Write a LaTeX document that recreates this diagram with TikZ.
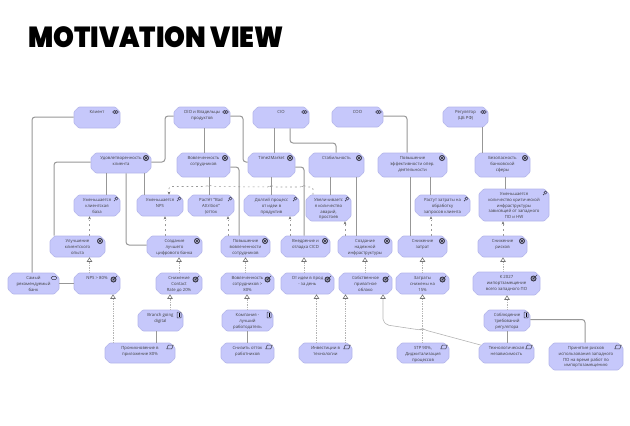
\documentclass[tikz,border=0pt]{standalone}
\usepackage{fontspec}
\setmainfont{Open Sans}
\newfontfamily\titlef{Poppins Black}
\usetikzlibrary{shapes.misc,arrows.meta}
\definecolor{boxfill}{HTML}{C6C8FB}
\definecolor{boxline}{HTML}{B4B6EA}
\definecolor{linegray}{HTML}{979797}
\definecolor{dotgray}{HTML}{B4B4B4}
\definecolor{icondark}{HTML}{3A3A4A}
\tikzset{
  ab/.style={chamfered rectangle,chamfered rectangle xsep=2.4pt,chamfered rectangle ysep=2.4pt,draw=boxline,fill=boxfill,line width=.6pt,inner sep=0pt,rounded corners=.8pt,text=black!75},
  sol/.style={draw=linegray,line width=1pt,rounded corners=3pt},
  real/.style={draw=dotgray,line width=1pt,dash pattern=on 1pt off .7pt,rounded corners=3pt,-{Triangle[open,fill=white,length=4.5pt,width=5.5pt,line width=.6pt,color=black!55]}},
  infl/.style={draw=black!40,line width=.55pt,dash pattern=on 1.8pt off 3pt,-{Stealth[length=3pt,width=2.6pt,color=black!60]}},
  icl/.style={draw=icondark,line width=.5pt},
}
\newcommand\icS[2]{\begin{scope}[shift={(#1-4.5,#2+5)}]\draw[icl] (-1,0) ellipse[x radius=1.9pt,y radius=1.6pt];\draw[icl] (1,0) ellipse[x radius=1.9pt,y radius=1.6pt];\end{scope}}
\newcommand\icG[2]{\begin{scope}[shift={(#1-5,#2+5)}]\fill[icondark] (0,0) circle[radius=3pt];\draw[boxfill!70!white,line width=.35pt] (0,0) circle[radius=1.8pt];\end{scope}}
\newcommand\icA[2]{\begin{scope}[shift={(#1-4,#2+4)}]\draw[icl] (.5,-.5) circle[radius=1.6pt];\draw[icl,line width=.7pt] (-.7,.7) -- (-2,2);\end{scope}}
\newcommand\icO[2]{\begin{scope}[shift={(#1-6.5,#2+6.5)}]\fill[icondark] (0,0) circle[radius=3pt];\draw[boxfill!70!white,line width=.35pt] (0,0) circle[radius=1.7pt];\draw[icl] (0,0) -- (3.6,-3.6);\end{scope}}
\newcommand\icP[2]{\begin{scope}[shift={(#1-4,#2+5)}]\draw[icl,rounded corners=.4pt] (-2,-2.8) rectangle (2,2.8);\draw[black,line width=.7pt] (0,-1.8) -- (0,.8) (0,1.3) -- (0,1.9);\end{scope}}
\newcommand\icR[2]{\begin{scope}[shift={(#1-5,#2+4)}]\draw[icl] (-3.2,1.8) -- (-1.8,-1.8) -- (3.2,-1.8) -- (1.8,1.8) -- cycle;\end{scope}}
\newcommand\icV[2]{\begin{scope}[shift={(#1-5,#2+5)}]\draw[icl,rounded corners=1.3pt] (-2.8,-1.6) rectangle (2.8,1.6);\end{scope}}
\newcommand\abox[7]{\node[ab,minimum width={(#4-#2)*1pt},minimum height={(#5-#3)*1pt}] (#1) at ({(#2+#4)/2},{(#3+#5)/2}) {\parbox[c][\dimexpr#5pt-#3pt-6pt\relax][t]{\dimexpr#4pt-#2pt-6pt\relax}{\fontsize{4.25}{5.8}\selectfont\centering\vspace*{.5pt}#6\par}};\csname ic#7\endcsname{#4}{#3}}
\begin{document}
\begin{tikzpicture}[x=1pt,y=-1pt]
\useasboundingbox (0,0) rectangle (630,426);
\node[anchor=base west,inner sep=0pt,font=\titlef\fontsize{29}{30}\selectfont] (title) at (28,47) {\scalebox{.915}[1]{MOTIVATION VIEW}};
% top row
\abox{klient}{74}{107}{120}{128}{Клиент}{S}
\abox{ceo}{174}{107}{230}{128}{CEO и Владельцы\\продуктов}{S}
\abox{cio}{253}{107}{309}{128}{CIO}{S}
\abox{coo}{332}{107}{383}{127}{COO}{S}
\abox{reg}{443}{107}{488}{127}{Регулятор\\(ЦБ РФ)}{S}
% goals row 1
\abox{udo}{91}{153}{151}{173}{Удовлетворенность\\клиента}{G}
\abox{vov}{177}{153}{230}{177}{Вовлеченность\\сотрудников}{G}
\abox{ttm}{248}{153}{295}{177}{Time2Market}{G}
\abox{stab}{309}{153}{364}{177}{Стабильность}{G}
\abox{eff}{378}{153}{447}{177}{Повышение\\эффективности опер.\\деятельности}{G}
\abox{bez}{475}{153}{530}{177}{Безопасность\\банковской\\сферы}{G}
% assessments
\abox{ub}{74}{195}{120}{216}{Уменьшается\\клиентская\\база}{A}
\abox{un}{137}{195}{183}{216}{Уменьшается\\NPS}{A}
\abox{ra}{188}{195}{234}{216}{Растёт "Bad\\Attrition"\\(отток}{A}
\abox{dp}{244}{195}{299}{216}{Долгий процесс\\от идеи в\\продуктив}{A}
\abox{uk}{306}{195}{351}{221}{Увеличиваетс\\я  количество\\аварий,\\простоев}{A}
\abox{rz}{415}{195}{470}{216}{Растут затраты на\\обработку\\запросов клиента}{A}
\abox{ukr}{479}{189}{549}{221}{Уменьшается\\количество критической\\инфраструктуры\\зависящей от западного\\ПО и HW}{A}
% goals row 2
\abox{ul}{50}{236}{105}{257}{Улучшение\\клиентского\\опыта}{G}
\abox{sl}{147}{236}{202}{257}{Создание\\лучшего\\цифрового банка}{G}
\abox{pv}{221}{236}{270}{257}{Повышение\\вовлеченности\\сотрудников}{G}
\abox{vn}{281}{236}{330}{257}{Внедрение и\\отладка CICD}{G}
\abox{sn}{338}{236}{392}{257}{Создание\\надежной\\инфраструктуры}{G}
\abox{sz}{398}{236}{447}{257}{Снижение\\затрат}{G}
\abox{sr}{478}{236}{527}{257}{Снижение\\рисков}{G}
% outcomes
\abox{sam}{8}{273}{59}{294}{Самый\\рекомендуемый\\банк}{V}
\abox{nps}{74}{273}{120}{294}{NPS > 80\%}{O}
\abox{con}{156}{273}{202}{294}{Снижение\\Contact\\Rate до 20\%}{O}
\abox{vs}{221}{273}{274}{294}{Вовлеченность\\сотрудников >\\80\%}{O}
\abox{oi}{281}{273}{334}{294}{От идеи в прод\\- за день}{O}
\abox{so}{339}{273}{392}{294}{Собственное\\приватное\\облако}{O}
\abox{zs}{396}{273}{449}{294}{Затраты\\снижены на\\15\%}{O}
\abox{k27}{473}{272}{540}{295}{К 2027\\импортзамещение\\всего западного ПО}{O}
% principles
\abox{br}{138}{310}{183}{331}{Branch going\\digital}{P}
\abox{ko}{222}{310}{273}{331}{Компания -\\лучший\\работодатель}{P}
\abox{sb}{484}{310}{530}{331}{Соблюдение\\требований\\регулятора}{P}
% requirements
\abox{pr}{105}{343}{175}{363}{Проникновение в\\приложение 80\%}{R}
\abox{si}{221}{343}{274}{363}{Снизить отток\\работников}{R}
\abox{inv}{299}{343}{352}{363}{Инвестиции в\\технологии}{R}
\abox{stp}{397}{343}{449}{363}{STP 90\%,\\Диджитализация\\процессов}{R}
\abox{te}{479}{343}{534}{363}{Технологическая\\независимость}{R}
\abox{pn}{549}{343}{623}{370}{Принятие рисков\\использования западного\\ПО на время работ по\\импортозамещению}{R}
% solid associations
\draw[sol] (klient.west |- 0,117) -- (32,117) -- (sam.north -| 32,0);
\draw[sol] (ceo.west |- 0,116) -- (165,116) -- (165,162) -- (udo.east |- 0,162);
\draw[sol] (udo.west |- 0,162) -- (54,162) -- (ul.north -| 54,0);
\draw[sol] (udo.south -| 106,0) -- (ub.north -| 106,0);
\draw[sol] (udo.south -| 126,0) -- (126,245) -- (sl.west |- 0,245);
\draw[sol] (udo.south -| 144,0) -- (un.north -| 144,0);
\draw[sol] (ceo.south -| 204,0) -- (vov.north -| 204,0);
\draw[sol] (vov.south -| 209,0) -- (ra.north -| 209,0);
\draw[sol] (vov.east |- 0,167) -- (239,167) -- (pv.north -| 239,0);
\draw[sol] (ceo.east |- 0,116) -- (243,116) -- (243,162) -- (ttm.west |- 0,162);
\draw[sol] (cio.south -| 274,0) -- (ttm.north -| 274,0);
\draw[sol] (cio.south -| 290,0) -- (290,143) -- (336,143) -- (stab.north -| 336,0);
\draw[sol] (ttm.south -| 271.5,0) -- (dp.north -| 271.5,0);
\draw[sol] (ttm.east |- 0,167) -- (304,167) -- (vn.north -| 304,0);
\draw[sol] (stab.south -| 330,0) -- (uk.north -| 330,0);
\draw[sol] (stab.south -| 356,0) -- (sn.north -| 356,0);
\draw[sol] (coo.east |- 0,116) -- (407,116) -- (eff.north -| 407,0);
\draw[sol] (eff.south -| 410,0) -- (sz.north -| 410,0);
\draw[sol] (eff.south -| 430,0) -- (rz.north -| 430,0);
\draw[sol] (reg.south -| 482,0) -- (bez.north -| 482,0);
\draw[sol] (bez.south -| 505,0) -- (ukr.north -| 505,0);
\draw[sol] (sam.east |- 0,283) -- (nps.west |- 0,283);
\draw[sol] (br.south -| 156,0) -- (pr.north -| 156,0);
\draw[sol] (ko.south -| 247,0) -- (si.north -| 247,0);
\draw[sol] (sb.south -| 507,0) -- (te.north -| 507,0);
\draw[sol] (sb.east |- 0,319.5) -- (585,319.5) -- (pn.north -| 585,0);
% influence (dashed)
\draw[infl] (ul.north -| 89.5,0) -- (ub.south -| 89.5,0);
\draw[infl] (sl.north -| 165,0) -- (un.south -| 165,0);
\draw[infl] (pv.north -| 228,0) -- (ra.south -| 228,0);
\draw[infl] (vn.north -| 290,0) -- (dp.south -| 290,0);
\draw[infl] (sn.north -| 345,0) -- (uk.south -| 345,0);
\draw[infl] (sz.north -| 431,0) -- (rz.south -| 431,0);
\draw[infl] (sr.north -| 503,0) -- (ukr.south -| 503,0);
\draw[infl,rounded corners=2pt] (uk.north -| 313,0) -- (313,187) -- (306,187) -- (304,185.5) -- (302,187) -- (273.5,187) -- (271.5,185.5) -- (269.5,187) -- (211,186.5) -- (209,185) -- (207,186.5) -- (169,186.5) -- (un.north -| 169,0);
% realization
\draw[real] (nps.north -| 89.5,0) -- (ul.south -| 89.5,0);
\draw[real] (con.north -| 179,0) -- (sl.south -| 179,0);
\draw[real] (vs.north -| 245.5,0) -- (pv.south -| 245.5,0);
\draw[real] (oi.north -| 304,0) -- (vn.south -| 304,0);
\draw[real] (so.north -| 365,0) -- (sn.south -| 365,0);
\draw[real] (zs.north -| 422.5,0) -- (sz.south -| 422.5,0);
\draw[real] (k27.north -| 503,0) -- (sr.south -| 503,0);
\draw[real] (pr.north -| 113,0) -- (nps.south -| 113,0);
\draw[real] (br.north -| 170,0) -- (con.south -| 170,0);
\draw[real] (ko.north -| 247,0) -- (vs.south -| 247,0);
\draw[real] (inv.north -| 316.5,0) -- (oi.south -| 316.5,0);
\draw[real] (inv.north -| 345.5,0) -- (so.south -| 345.5,0);
\draw[real] (stp.north -| 422.5,0) -- (zs.south -| 422.5,0);
\draw[real] (sb.north -| 507,0) -- (k27.south -| 507,0);
\draw[real,draw=dotgray,line width=.6pt,solid,rounded corners=2pt] (te.north west) -- (425,330) -- (422.5,328.5) -- (420.5,330) -- (387,325) -- (383,321) -- (so.south -| 383,0);
\end{tikzpicture}
\end{document}
